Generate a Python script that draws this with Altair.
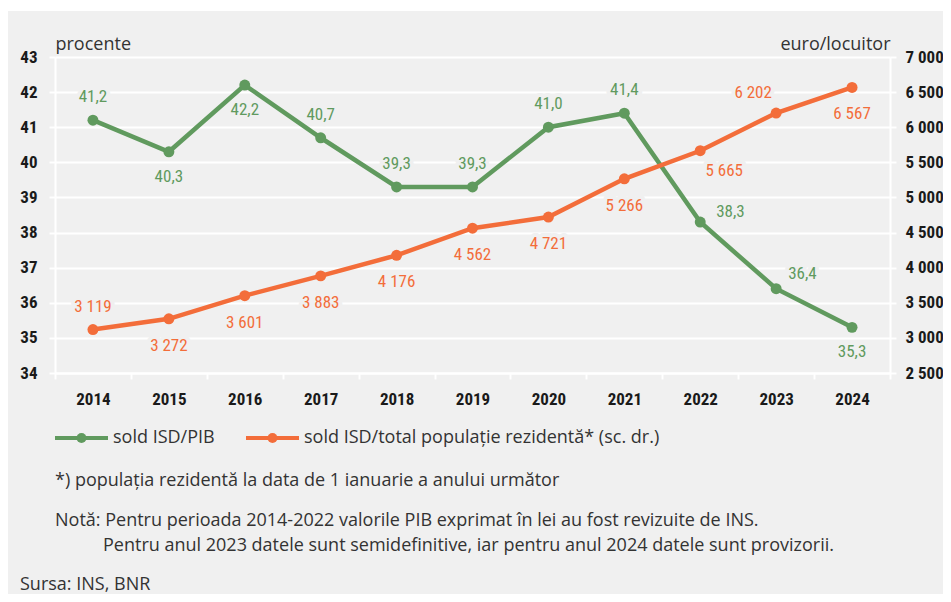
import altair as alt
import pandas as pd

years = ["2014", "2015", "2016", "2017", "2018", "2019", "2020", "2021", "2022", "2023", "2024"]
isd_pib = [41.2, 40.3, 42.2, 40.7, 39.3, 39.3, 41.0, 41.4, 38.3, 36.4, 35.3]
isd_per_capita = [3119, 3272, 3601, 3883, 4176, 4562, 4721, 5266, 5665, 6202, 6567]
pib_label_side = ["above", "below", "below", "above", "above", "above", "above", "above", "right", "upright", "below"]
cap_label_side = ["above", "below", "below", "below", "below", "below", "below", "below", "belowright", "aboveleft", "below"]
series_names = ["sold ISD/PIB", "sold ISD/total populație rezidentă* (sc. dr.)"]
series_colors = ["#609a5e", "#f36d3a"]
left_title = "procente"
right_title = "euro/locuitor"
notes = [
    "*) populația rezidentă la data de 1 ianuarie a anului următor",
    "Notă: Pentru perioada 2014-2022 valorile PIB exprimat în lei au fost revizuite de INS.",
    "Pentru anul 2023 datele sunt semidefinitive, iar pentru anul 2024 datele sunt provizorii.",
    "Sursa: INS, BNR",
]

BG = "#f0f0f0"
NARROW = "Roboto Condensed, Roboto, sans-serif"
TEXT_FONT = "Open Sans, Noto Sans, sans-serif"
TEXT_COLOR = "#333333"

df = pd.DataFrame({
    "year": years,
    "pib": isd_pib,
    "cap": isd_per_capita,
    "pib_side": pib_label_side,
    "cap_side": cap_label_side,
})

W, H = 835, 316

x_enc = alt.X(
    "year:O",
    bandPosition=0.5,
    scale=alt.Scale(type="band", paddingInner=0, paddingOuter=0),
    axis=alt.Axis(
        title=None, labelAngle=0, tickBand="extent", grid=False,
        domainColor="white", domainWidth=2, tickColor="white", tickWidth=2, tickSize=6,
        labelPadding=12, labelFont=NARROW, labelFontSize=17, labelFontWeight="bold",
        labelColor="#1a1a1a",
    ),
)

common_axis = dict(
    domainColor="white", domainWidth=2, tickColor="white", tickWidth=2, tickSize=6,
    labelFont=NARROW, labelFontSize=17, labelFontWeight="bold", labelColor="#1a1a1a",
    titleAngle=0, titleBaseline="middle", titleY=-13, titleX=0,
    titleFont=TEXT_FONT, titleFontSize=18, titleFontWeight="normal", titleColor=TEXT_COLOR,
)

y_left = alt.Y(
    "pib:Q",
    scale=alt.Scale(domain=[34, 43], nice=False, zero=False),
    axis=alt.Axis(
        values=list(range(34, 44)), title=left_title, titleAlign="left", orient="left",
        grid=True, gridColor="white", gridWidth=2, labelPadding=12, **common_axis,
    ),
)
y_right = alt.Y(
    "cap:Q",
    scale=alt.Scale(domain=[2500, 7000], nice=False, zero=False),
    axis=alt.Axis(
        values=list(range(2500, 7001, 500)), title=right_title, titleAlign="right", orient="right",
        grid=False, labelPadding=9, labelExpr="replace(format(datum.value, ','), ',', ' ')",
        **common_axis,
    ),
)

offsets_pib = {
    "above": dict(dy=-23, align="center"),
    "below": dict(dy=25, align="center"),
    "right": dict(dx=16, dy=-10, align="left"),
    "upright": dict(dx=12, dy=-15, align="left"),
}
offsets_cap = {
    "above": dict(dy=-23, align="center"),
    "below": dict(dy=27, align="center"),
    "belowright": dict(dx=24, dy=20, align="center"),
    "aboveleft": dict(dx=-23, dy=-20, align="center"),
}


def label_layers(base, side_field, offsets, color):
    layers = []
    for side, kw in offsets.items():
        f = base.transform_filter(alt.datum[side_field] == side)
        layers.append(f.mark_text(
            font=NARROW, fontSize=17, baseline="middle", stroke=BG, strokeWidth=8,
            strokeJoin="round", fill=BG, **kw))
    for side, kw in offsets.items():
        f = base.transform_filter(alt.datum[side_field] == side)
        layers.append(f.mark_text(
            font=NARROW, fontSize=17, baseline="middle", color=color, **kw))
    return layers


g_base = alt.Chart(df).transform_calculate(
    lab="replace(format(datum.pib, '.1f'), '.', ',')"
).encode(x=x_enc, y=y_left, text="lab:N")
g_line = g_base.mark_line(strokeWidth=4.5, color=series_colors[0])
g_pts = g_base.mark_circle(size=120, opacity=1, color=series_colors[0])

o_base = alt.Chart(df).transform_calculate(
    lab="replace(format(datum.cap, ','), ',', ' ')"
).encode(x=x_enc, y=y_right, text="lab:N")
o_line = o_base.mark_line(strokeWidth=4.5, color=series_colors[1])
o_pts = o_base.mark_circle(size=120, opacity=1, color=series_colors[1])

green = alt.layer(g_line, *label_layers(g_base, "pib_side", offsets_pib, series_colors[0]), g_pts)
orange = alt.layer(o_line, *label_layers(o_base, "cap_side", offsets_cap, series_colors[1]), o_pts)

# legend (drawn as annotation marks)
legend_df = pd.DataFrame({"name": series_names, "color": series_colors})
legend_y = 381
legend_starts = [0, 191]
legend_layers = []
for i, x0 in enumerate(legend_starts):
    one = alt.Chart(legend_df).transform_filter(alt.datum.name == series_names[i])
    legend_layers.append(one.mark_rule(strokeWidth=4, color=series_colors[i]).encode(
        x=alt.value(x0), x2=alt.value(x0 + 53), y=alt.value(legend_y)))
    legend_layers.append(one.mark_circle(size=100, opacity=1, color=series_colors[i]).encode(
        x=alt.value(x0 + 26.5), y=alt.value(legend_y)))
    legend_layers.append(one.mark_text(
        font=TEXT_FONT, fontSize=18, color=TEXT_COLOR, align="left", baseline="middle").encode(
        text="name:N", x=alt.value(x0 + 58), y=alt.value(legend_y)))

note_df = pd.DataFrame({"t": notes})
note_style = dict(font=TEXT_FONT, fontSize=18, color=TEXT_COLOR, align="left", baseline="middle")
note_positions = [(0, 424), (0, 464), (48, 489), (-35, 528)]
note_layers = []
for i, (nx, ny) in enumerate(note_positions):
    note_layers.append(
        alt.Chart(note_df).transform_filter(alt.datum.t == notes[i]).mark_text(**note_style).encode(
            text="t:N", x=alt.value(nx), y=alt.value(ny))
    )

# thin white strip above the grey panel, as in the reference
strip = alt.Chart(note_df.head(1)).mark_rect(color="white").encode(
    x=alt.value(-47), x2=alt.value(W + 53), y=alt.value(-49), y2=alt.value(-46))

chart = alt.layer(strip, green, orange, *legend_layers, *note_layers).resolve_scale(y="independent").properties(
    width=W, height=H,
    autosize=alt.AutoSizeParams(type="none"),
    padding={"left": 47, "top": 49, "right": 53, "bottom": 221},
    background=BG,
).configure_view(strokeWidth=0)

chart.save("out.html", embed_options={"renderer": "svg", "actions": False})
